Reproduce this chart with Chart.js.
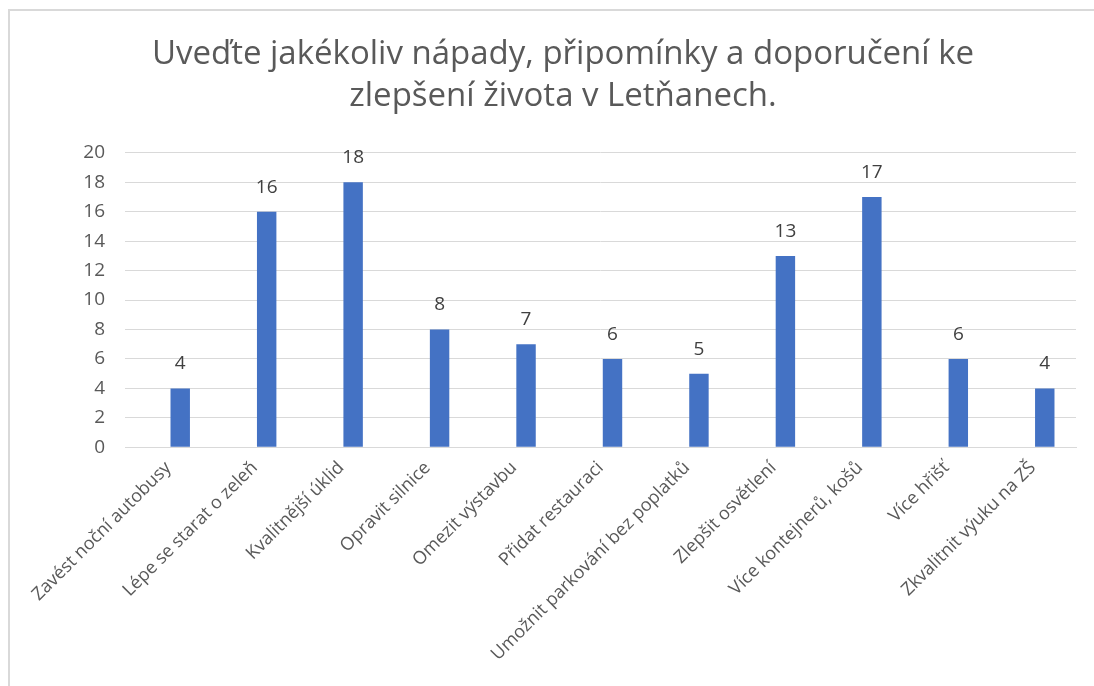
<!DOCTYPE html>
<html>
<head>
<meta charset="utf-8">
<script src="https://cdn.jsdelivr.net/npm/chart.js@4.4.0/dist/chart.umd.min.js"></script>
<style>
    html, body { margin: 0; padding: 0; background: #fff; overflow: hidden; }
    #frame {
        position: absolute; left: 8px; top: 9px;
        width: 1110px; height: 700px;
        border: 2px solid #d9d9d9; box-sizing: border-box;
    }
    #wrap { position: absolute; left: 0; top: 0; width: 1106px; height: 675px; }
</style>
</head>
<body>
<div id="frame"><div id="wrap"><canvas id="chart"></canvas></div></div>
<script>
// Data
const categories = [
    'Zavést noční autobusy',
    'Lépe se starat o zeleň',
    'Kvalitnější úklid',
    'Opravit silnice',
    'Omezit výstavbu',
    'Přidat restauraci',
    'Umožnit parkování bez poplatků',
    'Zlepšit osvětlení',
    'Více kontejnerů, košů',
    'Více hřišť',
    'Zkvalitnit výuku na ZŠ'
];
const counts = [4, 16, 18, 8, 7, 6, 5, 13, 17, 6, 4];
// the source sheet has an empty first series, which pushes the bars right of centre
const blankSeries = [null, null, null, null, null, null, null, null, null, null, null];
const titleLines = [
    'Uveďte jakékoliv nápady, připomínky a doporučení ke',
    'zlepšení života v Letňanech.'
];
const yMin = 0, yMax = 20, yStep = 2;

const FONT = "'Open Sans', 'Noto Sans', sans-serif";
const GREY = '#595959';

// value labels above bars
const valueLabels = {
    id: 'valueLabels',
    afterDatasetsDraw(chart) {
        const ctx = chart.ctx;
        const meta = chart.getDatasetMeta(1);
        ctx.save();
        ctx.fillStyle = '#404040';
        ctx.font = `19px ${FONT}`;
        ctx.textAlign = 'center';
        ctx.textBaseline = 'alphabetic';
        meta.data.forEach((bar, i) => {
            ctx.fillText(counts[i], bar.x, bar.y - 19);
        });
        ctx.restore();
    }
};

new Chart(document.getElementById('chart'), {
    type: 'bar',
    data: {
        labels: categories,
        datasets: [
            { data: blankSeries, backgroundColor: '#ed7d31' },
            { data: counts, backgroundColor: '#4472c4' }
        ]
    },
    options: {
        responsive: true,
        maintainAspectRatio: false,
        animation: false,
        datasets: {
            bar: { borderWidth: 0, barPercentage: 0.81, categoryPercentage: 0.555 }
        },
        layout: { padding: { left: 40, right: 40, top: 23, bottom: 19 } },
        plugins: {
            legend: { display: false },
            tooltip: { enabled: false },
            title: {
                display: true,
                text: titleLines,
                color: GREY,
                font: { family: FONT, size: 33, weight: 'normal', lineHeight: 1.27 },
                padding: { top: 0, bottom: 35 }
            }
        },
        scales: {
            x: {
                grid: { display: false },
                border: { color: '#d9d9d9' },
                ticks: {
                    color: GREY,
                    font: { family: FONT, size: 18 },
                    minRotation: 45,
                    maxRotation: 45,
                    autoSkip: false,
                    padding: 2
                }
            },
            y: {
                min: yMin,
                max: yMax,
                border: { display: false },
                grid: { color: '#d9d9d9', drawTicks: false },
                afterFit(scale) { scale.width = 75; },
                ticks: {
                    stepSize: yStep,
                    color: GREY,
                    font: { family: FONT, size: 19 },
                    padding: 20
                }
            }
        }
    },
    plugins: [valueLabels]
});
</script>
</body>
</html>
